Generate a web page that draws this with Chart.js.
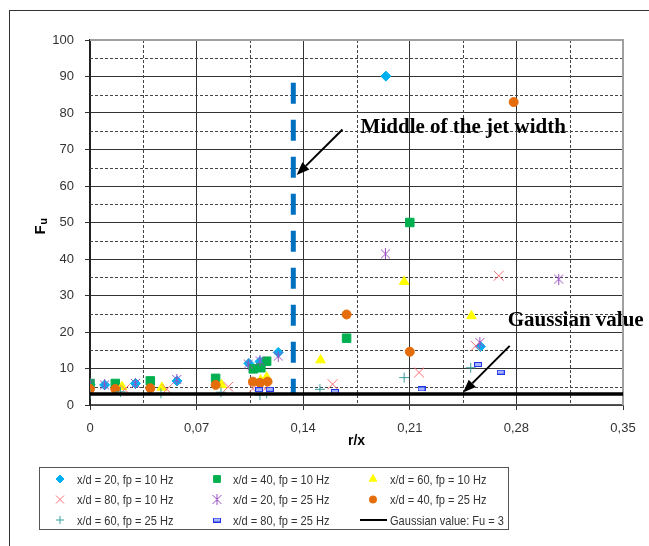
<!DOCTYPE html>
<html>
<head>
<meta charset="utf-8">
<script src="https://cdn.jsdelivr.net/npm/chart.js@4.4.1/dist/chart.umd.min.js"></script>
<style>
  html, body { margin: 0; padding: 0; background: #fff; overflow: hidden; }
  #wrap { position: relative; width: 649px; height: 546px; overflow: hidden; }
  #frame { position: absolute; left: 9px; top: 10px; width: 700px; height: 600px; border: 1px solid #333; box-sizing: border-box; }
  canvas { position: absolute; left: 0; top: 0; }
</style>
</head>
<body>
<div id="wrap">
  <div id="frame"></div>
  <canvas id="chart" width="649" height="546"></canvas>
</div>
<script>
// r/x and Fu, one pair of arrays per series
const rx20_10 = [0, 0.0096, 0.0298, 0.0571, 0.1043, 0.1116, 0.1236, 0.1943, 0.2564];
const fu20_10 = [5.6, 5.5, 5.9, 6.6, 11.4, 11.9, 14.4, 90.1, 16.0];

const rx40_10 = [0, 0.0166, 0.0396, 0.0825, 0.1072, 0.1122, 0.116, 0.1685, 0.21];
const fu40_10 = [5.9, 5.9, 6.6, 7.3, 9.9, 10.2, 12.0, 18.3, 50.0];

const rx60_10 = [0.021, 0.0472, 0.0864, 0.112, 0.116, 0.1514, 0.2063, 0.2505];
const fu60_10 = [5.0, 4.8, 5.5, 6.8, 7.6, 12.3, 33.8, 24.4];

const rx80_10 = [0.0228, 0.0505, 0.0908, 0.107, 0.115, 0.1593, 0.2161, 0.2533, 0.2684];
const fu80_10 = [4.3, 4.3, 5.0, 4.5, 4.5, 5.7, 8.9, 16.2, 35.4];

const rx20_25 = [0, 0.0096, 0.0298, 0.057, 0.1039, 0.1116, 0.1236, 0.194, 0.256, 0.3078];
const fu20_25 = [5.8, 5.5, 5.9, 7.0, 11.2, 12.1, 13.4, 41.4, 17.1, 34.5];

const rx40_25 = [0, 0.0166, 0.0396, 0.0825, 0.107, 0.1116, 0.1166, 0.1685, 0.21, 0.2782];
const fu40_25 = [4.4, 4.4, 4.6, 5.5, 6.4, 6.1, 6.4, 24.8, 14.6, 83.0];

const rx60_25 = [0, 0.02, 0.0466, 0.086, 0.1116, 0.116, 0.151, 0.2063, 0.25];
const fu60_25 = [3.0, 3.6, 3.2, 3.5, 2.7, 3.2, 4.3, 7.5, 10.2];

const rx80_25 = [0.111, 0.118, 0.1608, 0.2177, 0.2548, 0.2697];
const fu80_25 = [4.2, 4.3, 3.7, 4.4, 11.1, 9.0];

const gaussRx = [0, 0.35];
const gaussFu = [3, 3];

const jetRx = [0.1335, 0.1335];
const jetFu = [88.3, 3];

const xMinor = [0.035, 0.105, 0.175, 0.245, 0.315];
const yMinor = [5, 15, 25, 35, 45, 55, 65, 75, 85, 95];

// small canvases for the excel-like asterisk and dash markers
function starMarker() {
  const c = document.createElement('canvas');
  c.width = 11; c.height = 11;
  const g = c.getContext('2d');
  g.strokeStyle = '#9B4FC0';
  g.lineWidth = 1;
  g.beginPath();
  g.moveTo(1, 1); g.lineTo(10, 10);
  g.moveTo(10, 1); g.lineTo(1, 10);
  g.moveTo(5.5, 0); g.lineTo(5.5, 11);
  g.stroke();
  return c;
}
function dashMarker() {
  const c = document.createElement('canvas');
  c.width = 8; c.height = 5;
  const g = c.getContext('2d');
  g.fillStyle = '#a8b4ff';
  g.fillRect(0, 0, 8, 5);
  g.strokeStyle = '#1f35e8';
  g.lineWidth = 1;
  g.strokeRect(0.5, 0.5, 7, 4);
  return c;
}

const series = [
  { label: 'x/d = 20, fp = 10 Hz', xs: rx20_10, ys: fu20_10, style: 'rectRot', r: 5, color: '#00B0F0' },
  { label: 'x/d = 40, fp = 10 Hz', xs: rx40_10, ys: fu40_10, style: 'rect', r: 6, color: '#00B050' },
  { label: 'x/d = 60, fp = 10 Hz', xs: rx60_10, ys: fu60_10, style: 'triangle', r: 5.5, color: '#FFFF00' },
  { label: 'x/d = 80, fp = 10 Hz', xs: rx80_10, ys: fu80_10, style: 'crossRot', r: 7, color: '#FF6F74' },
  { label: 'x/d = 20, fp = 25 Hz', xs: rx20_25, ys: fu20_25, style: starMarker(), r: 5, color: '#9B4FC0' },
  { label: 'x/d = 40, fp = 25 Hz', xs: rx40_25, ys: fu40_25, style: 'circle', r: 4.5, color: '#E46C0A' },
  { label: 'x/d = 60, fp = 25 Hz', xs: rx60_25, ys: fu60_25, style: 'cross', r: 5, color: '#3A9C9C' },
  { label: 'x/d = 80, fp = 25 Hz', xs: rx80_25, ys: fu80_25, style: dashMarker(), r: 4, color: '#1f35e8' }
];

const datasets = series.map((s, i) => ({
  label: s.label,
  data: s.xs.map((x, j) => ({ x: x, y: s.ys[j] })),
  showLine: false,
  pointStyle: s.style,
  pointRadius: s.r,
  pointBackgroundColor: s.color,
  pointBorderColor: s.color,
  pointBorderWidth: 1,
  order: 20 - i
}));

datasets.push({
  label: 'Gaussian value: Fu = 3',
  data: gaussRx.map((x, j) => ({ x: x, y: gaussFu[j] })),
  showLine: true,
  borderColor: '#000',
  borderWidth: 3.5,
  pointRadius: 0,
  order: 1
});

datasets.push({
  label: 'jet middle',
  data: jetRx.map((x, j) => ({ x: x, y: jetFu[j] })),
  showLine: true,
  borderColor: '#0070C0',
  borderWidth: 5,
  borderDash: [21, 16],
  borderCapStyle: 'butt',
  pointRadius: 0,
  order: 2
});

const notes = [
  { text: 'Middle of the jet width', x: 0.1777, y: 76 },
  { text: 'Gaussian value', x: 0.2743, y: 23.1 }
];
const arrows = [
  { from: [0.1658, 75.5], to: [0.1357, 63.0] },
  { from: [0.2756, 16.2], to: [0.245, 3.4] }
];

function arrow(ctx, x1, y1, x2, y2) {
  const a = Math.atan2(y2 - y1, x2 - x1);
  const len = 13, half = 5;
  const bx = x2 - Math.cos(a) * len, by = y2 - Math.sin(a) * len;
  ctx.beginPath();
  ctx.moveTo(x1, y1);
  ctx.lineTo(bx, by);
  ctx.stroke();
  ctx.beginPath();
  ctx.moveTo(x2, y2);
  ctx.lineTo(bx - Math.sin(a) * half, by + Math.cos(a) * half);
  ctx.lineTo(bx + Math.sin(a) * half, by - Math.cos(a) * half);
  ctx.closePath();
  ctx.fill();
}

const decor = {
  id: 'decor',
  beforeDatasetsDraw(chart) {
    const { ctx, chartArea: ca, scales: { x, y } } = chart;
    ctx.save();
    ctx.strokeStyle = '#444';
    ctx.lineWidth = 1;
    ctx.setLineDash([3, 2]);
    xMinor.forEach(v => {
      const px = Math.round(x.getPixelForValue(v)) + 0.5;
      ctx.beginPath(); ctx.moveTo(px, ca.top); ctx.lineTo(px, ca.bottom); ctx.stroke();
    });
    yMinor.forEach(v => {
      const py = Math.round(y.getPixelForValue(v)) + 0.5;
      ctx.beginPath(); ctx.moveTo(ca.left, py); ctx.lineTo(ca.right, py); ctx.stroke();
    });
    ctx.setLineDash([]);
    ctx.strokeStyle = '#a0a0a0';
    ctx.lineWidth = 2;
    ctx.beginPath();
    ctx.moveTo(ca.left, ca.top); ctx.lineTo(ca.right, ca.top); ctx.lineTo(ca.right, ca.bottom);
    ctx.stroke();
    ctx.restore();
  },
  afterDraw(chart) {
    const { ctx, chartArea: ca, scales: { x, y } } = chart;
    ctx.save();

    // annotations
    ctx.strokeStyle = '#000';
    ctx.fillStyle = '#000';
    ctx.lineWidth = 2;
    arrows.forEach(a => arrow(ctx,
      x.getPixelForValue(a.from[0]), y.getPixelForValue(a.from[1]),
      x.getPixelForValue(a.to[0]), y.getPixelForValue(a.to[1])));
    ctx.font = 'bold 21px "Liberation Serif", "Times New Roman", serif';
    ctx.textBaseline = 'middle';
    ctx.textAlign = 'left';
    notes.forEach(n => ctx.fillText(n.text, x.getPixelForValue(n.x), y.getPixelForValue(n.y)));

    // axis titles
    ctx.font = 'bold 14px "Liberation Sans", Arial, sans-serif';
    ctx.textAlign = 'center';
    ctx.fillText('r/x', (ca.left + ca.right) / 2, 441);
    ctx.save();
    ctx.translate(41, (ca.top + ca.bottom) / 2 + 4);
    ctx.rotate(-Math.PI / 2);
    ctx.textAlign = 'left';
    ctx.font = 'bold 15px "Liberation Sans", Arial, sans-serif';
    ctx.fillText('F', -8, 0);
    const fw = ctx.measureText('F').width;
    ctx.font = 'bold 11px "Liberation Sans", Arial, sans-serif';
    ctx.fillText('u', -8 + fw + 0.5, 3);
    ctx.restore();

    // legend
    ctx.strokeStyle = '#555';
    ctx.lineWidth = 1;
    ctx.strokeRect(39.5, 467.5, 469, 62);
    const colMark = [60, 217, 373], colText = [77, 233, 390], rowY = [479, 499.5, 520];
    ctx.font = '13px "Liberation Sans", Arial, sans-serif';
    ctx.textAlign = 'left';
    ctx.textBaseline = 'middle';
    chart.data.datasets.slice(0, 9).forEach((ds, i) => {
      const cx = colMark[i % 3], cy = rowY[Math.floor(i / 3)];
      if (i < 8) {
        ctx.fillStyle = ds.pointBackgroundColor;
        ctx.strokeStyle = ds.pointBorderColor;
        ctx.lineWidth = 1;
        Chart.helpers.drawPoint(ctx, {
          pointStyle: ds.pointStyle, rotation: 0,
          radius: ds.pointRadius * 0.8, borderWidth: 1
        }, cx, cy);
      } else {
        ctx.strokeStyle = '#000';
        ctx.lineWidth = 2;
        ctx.beginPath(); ctx.moveTo(360, cy); ctx.lineTo(387, cy); ctx.stroke();
      }
      ctx.fillStyle = '#333';
      const w = ctx.measureText(ds.label).width;
      ctx.fillText(ds.label, colText[i % 3], cy + 1, w * 0.85);
    });
    ctx.restore();
  }
};

const fmt = v => (Math.abs(v) < 1e-9 ? '0' : v.toFixed(2).replace('.', ','));

new Chart(document.getElementById('chart').getContext('2d'), {
  type: 'scatter',
  data: { datasets: datasets },
  options: {
    responsive: false,
    animation: false,
    layout: { padding: { top: 40, right: 26, left: 0, bottom: 0 } },
    plugins: { legend: { display: false }, tooltip: { enabled: false } },
    scales: {
      x: {
        type: 'linear', min: 0, max: 0.35,
        ticks: {
          stepSize: 0.07, color: '#333', padding: 11,
          font: { family: '"Liberation Sans", Arial, sans-serif', size: 13 },
          callback: fmt
        },
        grid: { color: '#333', lineWidth: 1, tickLength: 5, tickColor: '#333' },
        border: { color: '#555', width: 1.5 },
        afterFit: s => { s.height = 141; }
      },
      y: {
        min: 0, max: 100,
        ticks: {
          stepSize: 10, color: '#333', padding: 11,
          font: { family: '"Liberation Sans", Arial, sans-serif', size: 13 }
        },
        grid: { color: '#333', lineWidth: 1, tickLength: 5, tickColor: '#333' },
        border: { color: '#222', width: 2 },
        afterFit: s => { s.width = 90; }
      }
    }
  },
  plugins: [decor]
});
</script>
</body>
</html>
